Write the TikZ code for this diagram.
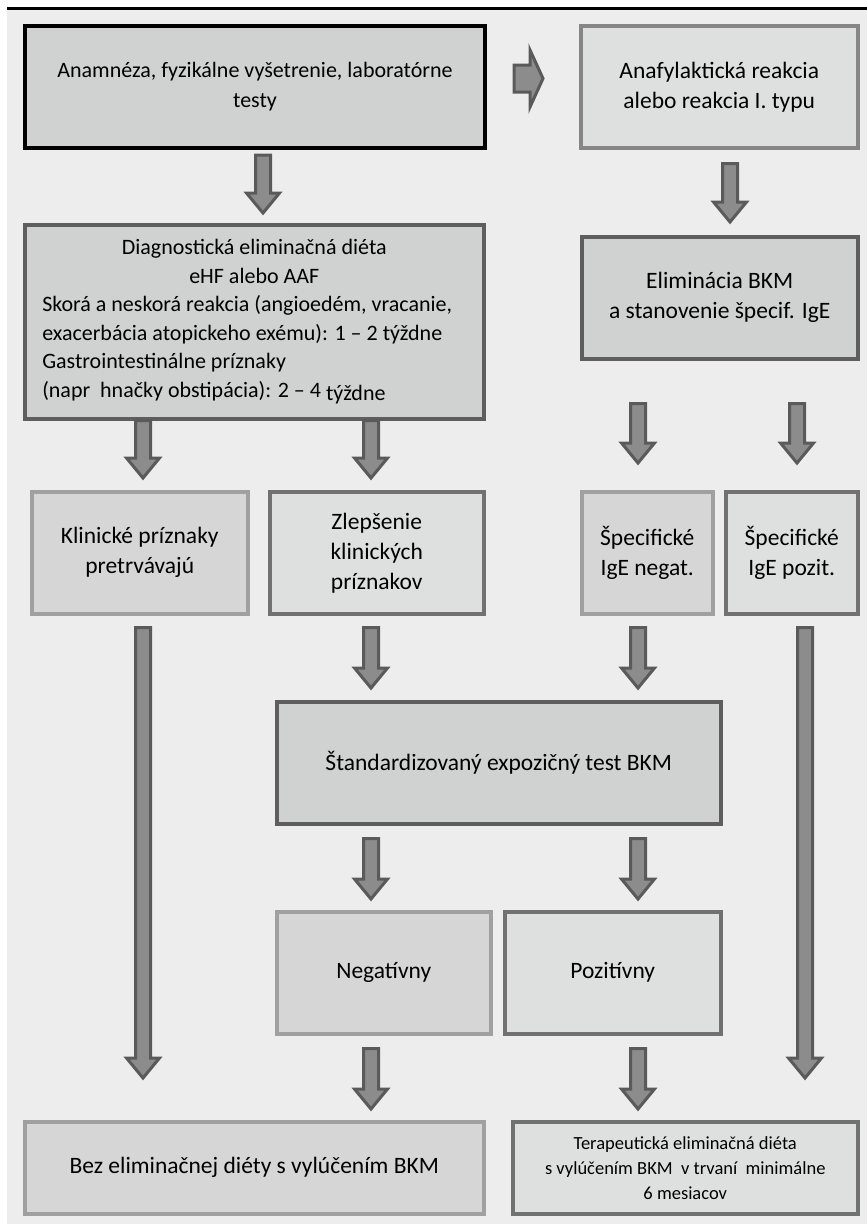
\documentclass[tikz,border=0pt]{standalone}
\usepackage{fontspec}
\setmainfont{Carlito}
\usetikzlibrary{calc}
\definecolor{bg}{HTML}{ECEDEC}
\definecolor{fillA}{HTML}{D0D1D1}
\definecolor{fillB}{HTML}{DEDFDF}
\definecolor{fillC}{HTML}{D6D6D6}
\definecolor{bdDark}{HTML}{5E5E5E}
\definecolor{bdMid}{HTML}{717171}
\definecolor{bdLight}{HTML}{A0A0A0}
\definecolor{arrFill}{HTML}{8C8C8C}
\definecolor{arrDraw}{HTML}{5A5A5A}
\tikzset{
  box/.style={rectangle, anchor=north west, inner sep=0pt, align=center,
    font=\fontsize{23.5}{30}\selectfont, line width=3.5pt},
  boxBlack/.style={box, draw=black, fill=fillA, line width=4pt},
  boxDark/.style={box, draw=bdDark, fill=fillA},
  boxMid/.style={box, draw=bdMid, fill=fillB},
  boxLight/.style={box, draw=bdLight, fill=fillC},
  blockarrow/.style={fill=arrFill, draw=arrDraw, line width=3pt, line join=miter},
}
% vertical block arrow: from node, to node, x, gap below source, gap above target
\newcommand\varrow[5]{%
  \draw[blockarrow] let \p1=(#1.south), \p2=(#2.north) in
    (#3pt-7.5pt,\y1-#4pt) -- (#3pt+7.5pt,\y1-#4pt) -- (#3pt+7.5pt,\y2+#5pt+20pt)
    -- (#3pt+16.5pt,\y2+#5pt+20pt) -- (#3pt,\y2+#5pt) -- (#3pt-16.5pt,\y2+#5pt+20pt)
    -- (#3pt-7.5pt,\y2+#5pt+20pt) -- cycle;}
\begin{document}
\begin{tikzpicture}[x=1pt,y=-1pt]
\useasboundingbox (0,0) rectangle (867,1224);
\fill[white] (0,0) rectangle (867,1224);
\fill[bg] (7,9) rectangle (867,1224);
\fill[black] (7,7) rectangle (867,9.5);

% boxes
\node[boxBlack, minimum width=460, minimum height=122,
      font=\fontsize{22}{30}\selectfont] (b1) at (23,24)
  {Anamnéza, fyzikálne vyšetrenie, laboratórne\\testy};
\node[boxMid, draw=bdMid!85!white, minimum width=277, minimum height=122] (b2) at (579,24)
  {Anafylaktická reakcia\\alebo reakcia I. typu};
\node[boxDark, minimum width=459, minimum height=194] (b3) at (23,223)
  {\parbox{424pt}{\fontsize{22}{28.5}\selectfont
   {\centering Diagnostická eliminačná diéta\\eHF alebo AAF\par}
   \raggedright
   Skorá a neskorá reakcia (angioedém, vracanie,\\
   exacerbácia atopickeho exému): 1 – 2 týždne\\
   Gastrointestinálne príznaky\\
   (napr\ \ hnačky obstipácia): 2 – 4 \raisebox{-3pt}{týždne}\par}};
\node[boxDark, minimum width=276, minimum height=122] (b4) at (580,235)
  {Eliminácia BKM\\a stanovenie špecif. IgE};

\node[boxLight, minimum width=216, minimum height=122] (k1) at (30,490)
  {Klinické príznaky\\pretrvávajú};
\node[boxMid, minimum width=214, minimum height=122] (k2) at (268,490)
  {Zlepšenie\\klinických\\príznakov};
\node[boxLight, minimum width=131, minimum height=122] (k3) at (580,490)
  {Špecifické\\IgE negat.};
\node[boxMid, minimum width=132, minimum height=122] (k4) at (724,490)
  {Špecifické\\IgE pozit.};

\node[boxDark, minimum width=444, minimum height=122] (st) at (275,700)
  {Štandardizovaný expozičný test BKM};

\node[boxLight, minimum width=214, minimum height=122] (ng) at (275,910)
  {Negatívny};
\node[boxMid, minimum width=216, minimum height=122] (pz) at (503,910)
  {Pozitívny};

\node[boxLight, minimum width=459, minimum height=92] (e1) at (23,1120)
  {Bez eliminačnej diéty s vylúčením BKM};
\node[boxMid, minimum width=345, minimum height=92,
      font=\fontsize{18.5}{25}\selectfont] (e2) at (511,1120)
  {Terapeutická eliminačná diéta\\s vylúčením BKM\ \ v trvaní\ \ minimálne\\6 mesiacov};

% horizontal block arrow
\draw[blockarrow] let \p1=(b1.east), \p2=(b2.west) in
  (\x1+27pt,-65pt) -- (\x1+43pt,-65pt) -- (\x1+43pt,-50pt) -- (\x2-36pt,-78.5pt)
  -- (\x1+43pt,-107pt) -- (\x1+43pt,-92pt) -- (\x1+27pt,-92pt) -- cycle;

% vertical block arrows
\varrow{b1}{b3}{263}{5}{10}
\varrow{b2}{b4}{730}{14}{13}
\varrow{b3}{k1}{143}{0}{12}
\varrow{b3}{k2}{371}{0}{12}
\varrow{b4}{k3}{638}{43}{27}
\varrow{b4}{k4}{797}{43}{27}
\varrow{k1}{e1}{143}{12}{42}
\varrow{k4}{e2}{805}{12}{42}
\varrow{k2}{st}{371}{12}{12}
\varrow{k3}{st}{638}{12}{12}
\varrow{st}{ng}{371}{13}{11}
\varrow{st}{pz}{638}{13}{11}
\varrow{ng}{e1}{371}{13}{11}
\varrow{pz}{e2}{638}{13}{11}
\end{tikzpicture}
\end{document}
